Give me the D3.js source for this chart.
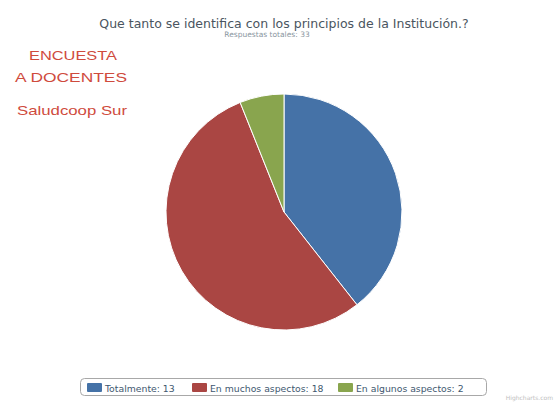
<!DOCTYPE html>
<html>
<head>
<meta charset="utf-8">
<script src="https://cdn.jsdelivr.net/npm/d3@7"></script>
<style>
  html, body { margin: 0; padding: 0; background: #fff; }
  svg { display: block; }
</style>
</head>
<body>
<svg id="chart" width="555" height="402"></svg>
<script>
// Survey answers
const categories = ["Totalmente", "En muchos aspectos", "En algunos aspectos"];
const counts = [13, 18, 2];
const colors = ["#4572A7", "#AA4643", "#89A54E"];
const titleText = "Que tanto se identifica con los principios de la Institución.?";
const subtitleText = "Respuestas totales: " + d3.sum(counts);
const sideLines = ["ENCUESTA", "A DOCENTES", "Saludcoop Sur"];

const svg = d3.select("#chart");

// Title and subtitle
svg.append("text")
  .attr("x", 284).attr("y", 28)
  .attr("text-anchor", "middle")
  .attr("font-family", "DejaVu Sans, sans-serif")
  .attr("font-size", 12.5)
  .attr("fill", "#4a5560")
  .text(titleText);
svg.append("text")
  .attr("x", 267).attr("y", 37)
  .attr("text-anchor", "middle")
  .attr("font-family", "DejaVu Sans, sans-serif")
  .attr("font-size", 7.5)
  .attr("fill", "#8a96a0")
  .text(subtitleText);

// Side note in red
const sideSpec = [
  { x: 29, y: 60, w: 88 },
  { x: 15, y: 82, w: 112 },
  { x: 17, y: 114.5, w: 110 }
];
svg.append("g")
  .attr("font-family", "Liberation Sans, Arial, sans-serif")
  .attr("font-size", 13.5)
  .attr("fill", "#cf4b3d")
  .selectAll("text")
  .data(sideLines)
  .join("text")
  .attr("x", (d, i) => sideSpec[i].x)
  .attr("y", (d, i) => sideSpec[i].y)
  .attr("textLength", (d, i) => sideSpec[i].w)
  .attr("lengthAdjust", "spacingAndGlyphs")
  .text(d => d);

// Pie
const cx = 284, cy = 212, r = 118;
const pie = d3.pie().sort(null).value(d => d.value);
const arc = d3.arc().innerRadius(0).outerRadius(r);
const data = categories.map((c, i) => ({ name: c, value: counts[i], color: colors[i] }));

svg.append("g")
  .attr("transform", `translate(${cx},${cy})`)
  .selectAll("path")
  .data(pie(data))
  .join("path")
  .attr("d", arc)
  .attr("fill", d => d.data.color)
  .attr("stroke", "#fff")
  .attr("stroke-width", 1)
  .attr("stroke-linejoin", "round");

// Legend
const legend = svg.append("g");
legend.append("rect")
  .attr("x", 80.5).attr("y", 378.5)
  .attr("width", 406).attr("height", 17)
  .attr("rx", 4).attr("ry", 4)
  .attr("fill", "#fff")
  .attr("stroke", "#a8a8a8")
  .attr("stroke-width", 1);

const itemX = [87, 192, 338];
const items = legend.selectAll("g.item")
  .data(data)
  .join("g")
  .attr("class", "item")
  .attr("transform", (d, i) => `translate(${itemX[i]},383)`);
items.append("rect")
  .attr("width", 15).attr("height", 9)
  .attr("rx", 1)
  .attr("fill", d => d.color);
items.append("text")
  .attr("x", 18).attr("y", 8.5)
  .attr("font-family", "DejaVu Sans, sans-serif")
  .attr("font-size", 9.3)
  .attr("fill", "#3E576F")
  .text(d => `${d.name}: ${d.value}`);

// Credits
svg.append("text")
  .attr("x", 553).attr("y", 400)
  .attr("text-anchor", "end")
  .attr("font-family", "DejaVu Sans, sans-serif")
  .attr("font-size", 6)
  .attr("fill", "#c0c0c0")
  .text("Highcharts.com");
</script>
</body>
</html>
